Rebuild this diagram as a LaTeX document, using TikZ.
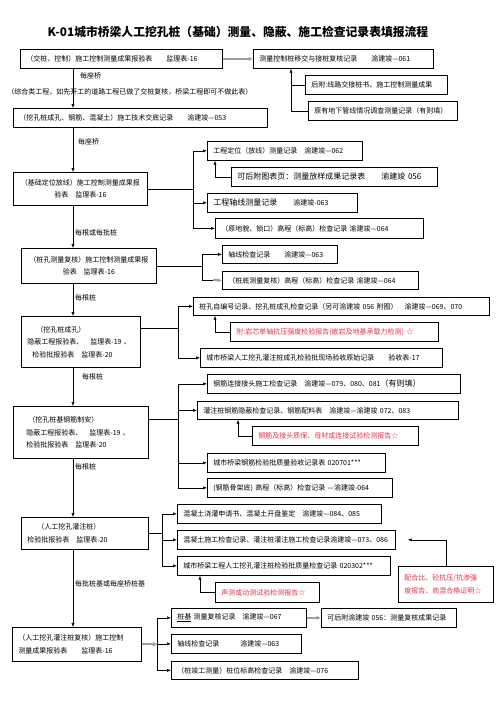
\documentclass[tikz,border=0pt]{standalone}
\usepackage{fontspec}
\setmainfont{Noto Sans CJK SC}
\usetikzlibrary{positioning,calc,arrows.meta}
\definecolor{notered}{RGB}{228,45,75}
\tikzset{
  rec/.style={draw, line width=0.7pt, anchor=north west, align=left, inner xsep=6pt, inner ysep=0pt,
    minimum height=19pt, text width=#1, font=\fontsize{7}{12.5}\selectfont},
  bigrec/.style={rec=#1, font=\fontsize{8}{12}\selectfont},
  redrec/.style={rec=#1, text=notered},
  arr/.style={line width=0.6pt, -{Latex[length=4pt,width=3.2pt]}},
  garr/.style={line width=1.8pt, draw=gray!75, -{Latex[length=4.5pt,width=4.5pt]}},
  lbl/.style={anchor=west, inner sep=0pt, font=\fontsize{7}{8}\selectfont},
}
\begin{document}
\begin{tikzpicture}[x=1pt, y=-1pt]
  \useasboundingbox (0,0) rectangle (496,702);
  \node[font=\bfseries\fontsize{11.8}{14}\selectfont] (title) at (238,32)
    {K-01城市桥梁人工挖孔桩（基础）测量、隐蔽、施工检查记录表填报流程};

  \coordinate (sp) at (73,0);

  % exchange of piles
  \node[rec=190] (jiao) at (20,49) {（交桩、控制）施工控制测量成果报验表　　监理表-16};
  \node[rec=168] (yijiao) at (253,49) {测量控制桩移交与接桩复核记录　　渝建竣—061};
  \node[rec=130] (houfu) at (305,75) {后附:线路交接桩书、施工控制测量成果};
  \node[rec=137] (guanxian) at (308,101) {原有地下管线情况调查测量记录（有则填）};
  \node[rec=242] (jiaodi) at (13,108) {（挖孔桩成孔、钢筋、混凝土）施工技术交底记录　　渝建竣—053};

  % setting out
  \node[rec=122, align=center, minimum height=33pt] (dingwei) at (13,172)
    {（基础定位放线）施工控制测量成果报\\验表　监理表-16};
  \node[rec=143] (fangxian) at (207,141) {工程定位（放线）测量记录　渝建竣—062};
  \node[bigrec=194] (fangyang) at (231,167) {可后附图表页：测量放样成果记录表　　渝建竣 056};
  \node[bigrec=138] (zhouxian) at (207,193) {工程轴线测量记录　　\fontsize{7}{8}\selectfont 渝建竣-063};
  \node[rec=196, minimum height=20pt] (yuandimao) at (215,218) {（原地貌、锁口）高程（标高）检查记录 渝建竣—064};

  % pile hole survey
  \node[rec=123, align=center, minimum height=35pt] (fuhe) at (21,248)
    {（桩孔测量复核）施工控制测量成果报\\验表　监理表-16};
  \node[rec=103, minimum height=18pt] (zhouchk) at (222,245) {轴线检查记录　　渝建竣—063};
  \node[rec=184, minimum height=18pt] (zhuangdi) at (222,271) {（桩底测量复核）高程（标高）检查记录 渝建竣—064};

  % hole formed
  \node[rec=113, inner xsep=3pt, minimum height=51pt] (chengkong) at (21,316)
    {\hspace*{12pt}（挖孔桩成孔）\\\hspace*{3pt}隐蔽工程报验表、　监理表-19 、\\\hspace*{8pt}检验批报验表　监理表-20};
  \node[rec=284, minimum height=18pt] (bianhao) at (193,297)
    {桩孔自编号记录、挖孔桩成孔检查记录（另可渝建竣 056 附图）　渝建竣—069、070};
  \node[redrec=196] (yanxin) at (230,322) {附:岩芯单轴抗压强度检验报告(嵌岩及地基承载力检测)  ☆};
  \node[rec=230] (yanshou) at (200,348) {城市桥梁人工挖孔灌注桩成孔检验批现场验收原始记录　　验收表-17};

  % reinforcement
  \node[rec=129, inner xsep=3pt, minimum height=52pt] (gangjin) at (13,406)
    {\hspace*{12pt}（挖孔桩基钢筋制安）\\\hspace*{10pt}隐蔽工程报验表、　监理表-19 、\\\hspace*{10pt}检验批报验表　监理表-20};
  \node[rec=241] (jietou) at (207,374) {钢筋连接接头施工检查记录　渝建竣—079、080、081\fontsize{8}{10}\selectfont（有则填）};
  \node[rec=249, minimum height=18pt] (yinbi) at (197,401) {灌注桩钢筋隐蔽检查记录、钢筋配料表　渝建竣—渝建竣 072、083};
  \node[redrec=154] (zhibao) at (252,426) {钢筋及接头质保、母材或连接试验检测报告☆};
  \node[rec=166] (gjpi) at (207,453) {城市桥梁钢筋检验批质量验收记录表 020701***};
  \node[rec=173] (gujia) at (207,478) {(钢筋骨架底) 高程（标高）检查记录 ---渝建竣-064};

  % concrete
  \node[rec=115, minimum height=32pt] (guanzhu) at (21,517)
    {\hspace*{10pt}（人工挖孔灌注桩）\\检验批报验表　监理表-20};
  \node[rec=192] (shenqing) at (177,504) {混凝土浇灌申请书、混凝土开盘鉴定　渝建竣—084、085};
  \node[rec=206] (shigong) at (177,530) {混凝土施工检查记录、灌注桩灌注施工检查记录渝建竣—073、086};
  \node[rec=201] (hntpi) at (177,556) {城市桥梁工程人工挖孔灌注桩检验批质量检查记录 020302***};
  \node[redrec=92, minimum height=20pt] (shengce) at (215,582) {声测或动测试验检测报告☆};
  \node[redrec=83, minimum height=36pt] (peihebi) at (398,566) {配合比、砼抗压/抗渗强\\度报告、商混合格证明☆};

  % final check
  \node[rec=117, minimum height=34pt] (zuihou) at (12,627)
    {（人工挖孔灌注桩复核）施工控制\\测量成果报验表　　监理表-16};
  \node[rec=123] (zjfuhe) at (171,608) {\underline{桩基} 测量复核记录　渝建竣—067};
  \node[rec=118] (zjzhou) at (171,634) {轴线检查记录　　　渝建竣—063};
  \node[rec=175, minimum height=18pt] (zhuangwei) at (171,661) {（桩竣工测量）桩位标高检查记录　渝建竣—076};
  \node[rec=123] (fjcg) at (321,608) {可后附渝建竣 056：测量复核成果记录};

  % labels
  \node[lbl] (l1) at (80,76) {每座桥};
  \node[font=\fontsize{7}{8}\selectfont, inner sep=0pt] (l2) at (130,92)
    {（综合类工程，如先开工的道路工程已做了交桩复核，桥梁工程即可不做此表）};
  \node[lbl] (l3) at (78,142) {每座桥};
  \node[lbl] (l4) at (75,233) {每根或每批桩};
  \node[lbl] (l5) at (75,298) {每根桩};
  \node[lbl] (l6) at (82,377) {每根桩};
  \node[lbl] (l7) at (75,467) {每根桩};
  \node[lbl] (l8) at (75,584) {每批桩基或每座桥桩基};

  % connectors
  \draw[garr] (jiao.east) -- (yijiao.west);
  \draw[arr] (guanxian.west) -| ($(yijiao.south west)+(38,0)$);
  \draw[line width=0.6pt] (houfu.west) -- ($(houfu.west -| yijiao.west)+(38,0)$);

  \draw[arr] (jiao.south -| sp) -- (jiaodi.north -| sp);
  \draw[arr] (jiaodi.south -| sp) -- (dingwei.north -| sp);
  \draw[arr] (dingwei.south -| sp) -- (fuhe.north -| sp);
  \draw[arr] (fuhe.south -| sp) -- (chengkong.north -| sp);
  \draw[arr] (chengkong.south -| sp) -- (gangjin.north -| sp);
  \draw[arr] (gangjin.south -| sp) -- (guanzhu.north -| sp);
  \draw[arr] (guanzhu.south -| sp) -- (zuihou.north -| sp);

  \draw[line width=0.6pt] (dingwei.east) -- ++(46,0) coordinate (fj);
  \draw[arr] (fj) |- (fangxian.west);
  \draw[arr] (fj) |- (zhouxian.west);
  \draw[arr] (fj) |- (yuandimao.west);
  \draw[arr] (fangyang.west) -| ($(fangxian.south west)+(8,0)$);

  \draw[line width=0.6pt] (fuhe.east) -- ++(46,0) coordinate (kj);
  \draw[arr] (kj) |- (zhouchk.west);
  \draw[line width=0.6pt] (kj) |- ($(zhuangdi.west)+(-8,0)$);
  \draw[garr] ($(zhuangdi.west)+(-9,0)$) -- (zhuangdi.west);

  \draw[line width=0.6pt] ($(chengkong.north east)+(0,12)$) -- ++(38,0) coordinate (nj);
  \draw[arr] (nj) |- (bianhao.west);
  \draw[arr] (nj) |- (yanshou.west);
  \draw[arr] (yanxin.west) -| ($(bianhao.south west)+(22,0)$);

  \draw[line width=0.6pt] ($(gangjin.north east)+(0,13)$) -- ++(30,0) coordinate (rj);
  \draw[arr] (rj) |- (jietou.west);
  \draw[arr] (rj) |- (yinbi.west);
  \draw[arr] (rj) |- (gjpi.west);
  \draw[arr] (rj) |- (gujia.west);
  \draw[arr] (zhibao.west) -| ($(yinbi.south west)+(41,0)$);

  \draw[line width=0.6pt] (guanzhu.east) -- ++(14,0) coordinate (xj);
  \draw[arr] (xj) |- (shenqing.west);
  \draw[arr] (xj) |- (shigong.west);
  \draw[arr] (xj) |- (hntpi.west);
  \draw[arr] (shengce.west) -| ($(hntpi.south west)+(23,0)$);
  \draw[arr, shorten >=12pt] (peihebi.north) |- (shigong.east);

  \draw[garr] (zuihou.east) -- ++(16,0) coordinate (dj);
  \draw[arr] (dj) |- (zjfuhe.west);
  \draw[arr] (dj) |- (zjzhou.west);
  \draw[arr] (dj) |- (zhuangwei.west);
  \draw[garr] (zjfuhe.east) -- (fjcg.west);
\end{tikzpicture}
\end{document}
